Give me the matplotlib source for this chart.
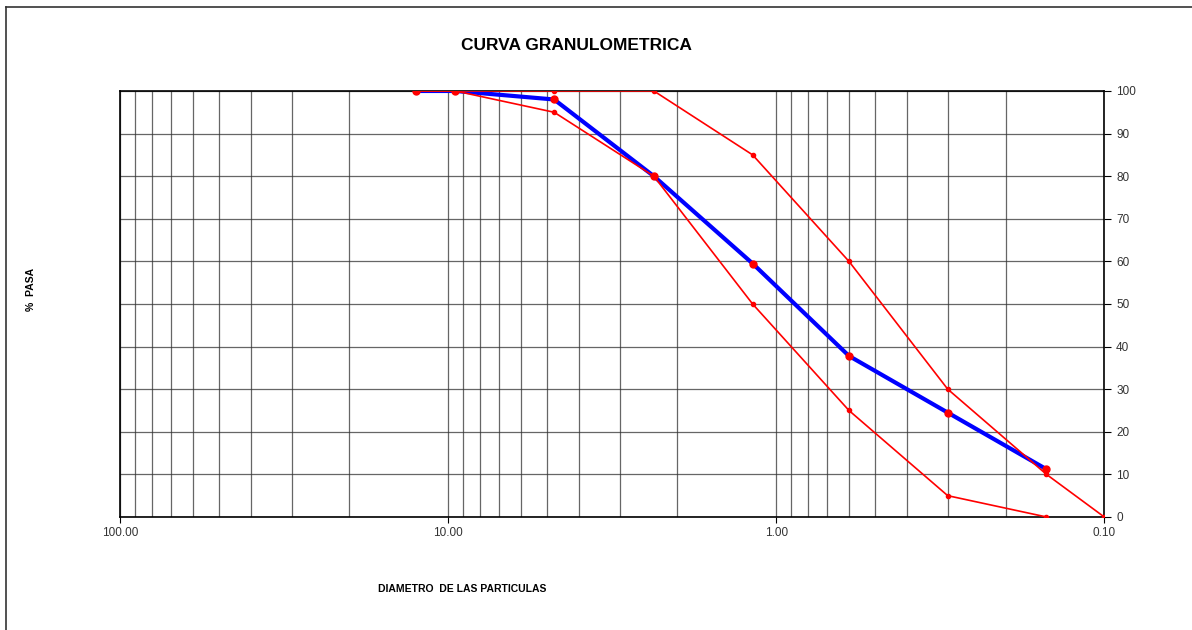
import matplotlib
matplotlib.use('Agg')
import matplotlib.pyplot as plt
from matplotlib.ticker import FixedLocator, LogLocator, NullFormatter, FixedFormatter

plt.rcParams['font.family'] = ['Liberation Sans', 'DejaVu Sans']

# Tamices (mm) y porcentaje que pasa
diametro = [12.5, 9.5, 4.75, 2.36, 1.18, 0.60, 0.30, 0.15]
pasa = [100, 100, 98, 80, 59.5, 37.8, 24.5, 11.2]

# Limites del huso granulometrico
lim_sup_d = [12.5, 9.5, 4.75, 2.36, 1.18, 0.60, 0.30, 0.15, 0.10]
lim_sup = [100, 100, 100, 100, 85, 60, 30, 10, 0]
lim_inf_d = [12.5, 9.5, 4.75, 2.36, 1.18, 0.60, 0.30, 0.15]
lim_inf = [100, 100, 95, 80, 50, 25, 5, 0]

x_ticks = [100, 10, 1, 0.1]
x_labels = ['100.00', '10.00', '1.00', '0.10']

fig = plt.figure(figsize=(11.92, 6.30), dpi=100)
ax = fig.add_axes([0.1007, 0.1794, 0.8257, 0.6762])

# grid
ax.set_xscale('log')
ax.set_xlim(100, 0.1)
ax.set_ylim(0, 100)
ax.xaxis.set_major_locator(FixedLocator(x_ticks))
ax.xaxis.set_major_formatter(FixedFormatter(x_labels))
ax.xaxis.set_minor_locator(LogLocator(base=10, subs=range(2, 10)))
ax.xaxis.set_minor_formatter(NullFormatter())
ax.set_yticks(range(0, 101, 10))
ax.grid(True, which='both', axis='x', color='#333333', lw=0.9, alpha=0.75)
ax.grid(True, which='major', axis='y', color='#333333', lw=0.9, alpha=0.75)
ax.set_axisbelow(True)

ax.plot(diametro, pasa, color='#0000ff', lw=3, marker='o', ms=5,
        mfc='red', mec='red', zorder=3)
ax.plot(lim_sup_d, lim_sup, color='red', lw=1.2, marker='o', ms=3, zorder=4)
ax.plot(lim_inf_d, lim_inf, color='red', lw=1.2, marker='o', ms=3, zorder=4)

ax.yaxis.tick_right()
ax.tick_params(axis='both', which='major', labelsize=8.5, labelcolor='#333333',
               length=4, width=0.8)
ax.tick_params(axis='x', which='minor', length=0)
ax.tick_params(axis='y', length=5)
for s in ax.spines.values():
    s.set_color('black')
    s.set_linewidth(1.2)

fig.text(0.484, 0.927, 'CURVA GRANULOMETRICA', ha='center', va='center',
         fontsize=12.5, fontweight='bold')
fig.text(0.388, 0.065, 'DIAMETRO  DE LAS PARTICULAS', ha='center', va='center',
         fontsize=7.5, fontweight='bold')
fig.text(0.026, 0.54, '%  PASA', ha='center', va='center', rotation=90,
         fontsize=7.5, fontweight='bold')

# marco de la hoja
fig.add_artist(plt.Line2D([0.005, 0.005], [0, 0.989], color='#333333', lw=1.2))
fig.add_artist(plt.Line2D([0.005, 1.0], [0.989, 0.989], color='#333333', lw=1.2))

fig.savefig('out.png', dpi=100)
